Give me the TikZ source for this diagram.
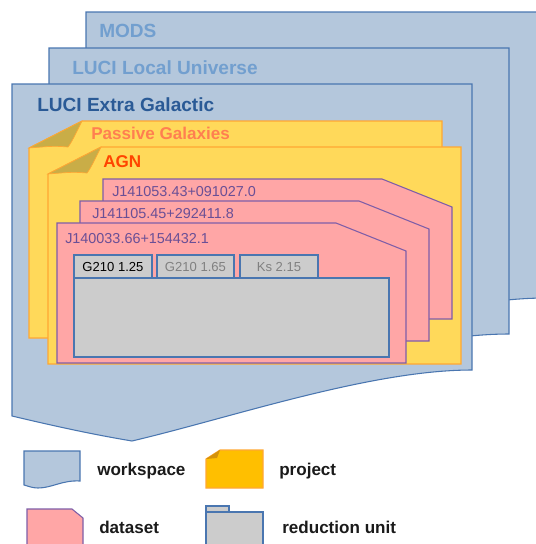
\documentclass[tikz,border=0pt]{standalone}
\usepackage{fontspec}
\setmainfont{Liberation Sans}
\usepackage{xcolor}
\usetikzlibrary{scopes}

\definecolor{wsfill}{HTML}{B4C7DC}
\definecolor{wsline}{HTML}{4A76B0}
\definecolor{wslight}{HTML}{729FCF}
\definecolor{wsdark}{HTML}{2A5A96}
\definecolor{prfill}{HTML}{FFD95A}
\definecolor{prline}{HTML}{FFA733}
\definecolor{prfold}{HTML}{C9AD47}
\definecolor{prlegend}{HTML}{FFBF00}
\definecolor{prlegfold}{HTML}{D4920A}
\definecolor{prtext}{HTML}{FF7F50}
\definecolor{agntext}{HTML}{FF4500}
\definecolor{dsfill}{HTML}{FFA6A6}
\definecolor{dsline}{HTML}{7E5EA8}
\definecolor{dstext}{HTML}{6A4F96}
\definecolor{rufill}{HTML}{CCCCCC}
\definecolor{legtext}{HTML}{1A1A1A}

\tikzset{
  workspace/.style={fill=wsfill, draw=wsline, line width=0.8pt},
  project/.style={fill=prfill, draw=prline, line width=0.8pt},
  fold/.style={fill=prfold, draw=prline, line width=0.5pt},
  dataset/.style={fill=dsfill, draw=dsline, line width=0.8pt},
  redunit/.style={fill=rufill, draw=wsline, line width=0.8pt},
  wslabel/.style={anchor=base west, inner sep=0pt, font=\fontsize{14.3}{16}\selectfont\bfseries},
  prlabel/.style={anchor=base west, inner sep=0pt, font=\fontsize{12.8}{15}\selectfont\bfseries},
  dslabel/.style={anchor=base west, inner sep=0pt, text=dstext, font=\fontsize{10.8}{13}\selectfont},
  tablabel/.style={anchor=base, inner sep=0pt, font=\fontsize{9.8}{12}\selectfont},
  leglabel/.style={anchor=base west, inner sep=0pt, text=legtext, font=\fontsize{12.8}{15}\selectfont\bfseries}
}

\begin{document}
\begin{tikzpicture}[x=0.75pt, y=-0.75pt]
\useasboundingbox (0,0) rectangle (536,544);
\clip (0,0) rectangle (536,544);

% workspaces, back to front
\foreach \i in {2,1,0}
	\draw[workspace, shift={(37*\i,-36*\i)}] (12,84) -- (472,84) -- (472,370)
		.. controls (370,370) and (230,418) .. (132,441)
		.. controls (90,434) and (50,425) .. (12,416) -- cycle;
\node[wslabel, text=wslight] (wsmods) at (99,37) {MODS};
\node[wslabel, text=wslight] (wslocal) at (72,74) {LUCI Local Universe};
\node[wslabel, text=wsdark] (wsextra) at (37,111) {LUCI Extra Galactic};

% projects
\foreach \px/\py in {29/121,48/147}{
	\draw[project] (\px+53,\py) -- (\px+413,\py) -- (\px+413,\py+217) -- (\px,\py+217) -- (\px,\py+27) -- cycle;
	\draw[fold] (\px,\py+27) -- (\px+53,\py) .. controls (\px+47,\py+12) and (\px+43,\py+21) .. (\px+39,\py+26)
		.. controls (\px+25,\py+25) .. cycle;
}
\node[prlabel, text=prtext] (prpassive) at (91,139) {Passive Galaxies};
\node[prlabel, text=agntext] (pragn) at (103,167) {AGN};

% datasets
\foreach \dx/\dy in {103/179,80/201,57/223}
	\draw[dataset] (\dx,\dy) -- (\dx+279,\dy) -- (\dx+349,\dy+28) -- (\dx+349,\dy+140) -- (\dx,\dy+140) -- cycle;
\node[dslabel] (ds1) at (112,196) {J141053.43+091027.0};
\node[dslabel] (ds2) at (92,218) {J141105.45+292411.8};
\node[dslabel] (ds3) at (65,243) {J140033.66+154432.1};

% reduction units
\draw[redunit] (74,255) rectangle (152,278);
\draw[redunit] (157,255) rectangle (234,278);
\draw[redunit] (240,255) rectangle (318,278);
\draw[redunit] (74,278) rectangle (389,357);
\node[tablabel, text=black] (tab1) at (113,271) {G210 1.25};
\node[tablabel, text=gray] (tab2) at (195.5,271) {G210 1.65};
\node[tablabel, text=gray] (tab3) at (279,271) {Ks 2.15};

% legend
\draw[workspace] (24,451) -- (80,451) -- (80,481) .. controls (62,480) and (52,488) .. (38,488)
	.. controls (32,488) and (28,486) .. (24,485) -- cycle;
\draw[fill=prlegend, draw=prline, line width=0.8pt] (220,450) -- (263,450) -- (263,488) -- (206,488) -- (206,459) -- cycle;
\fill[prlegfold] (206,459) -- (220,450) .. controls (218,454) .. (217,458) -- cycle;
\draw[dataset] (27,509) -- (72,509) -- (83,518) -- (83,550) -- (27,550) -- cycle;
\draw[redunit] (206,506) rectangle (229,512);
\draw[redunit] (206,512) rectangle (263,550);
\node[leglabel] (legws) at (97,475) {workspace};
\node[leglabel] (legpr) at (279,475) {project};
\node[leglabel] (legds) at (99,533) {dataset};
\node[leglabel] (legru) at (282,533) {reduction unit};
\end{tikzpicture}
\end{document}
